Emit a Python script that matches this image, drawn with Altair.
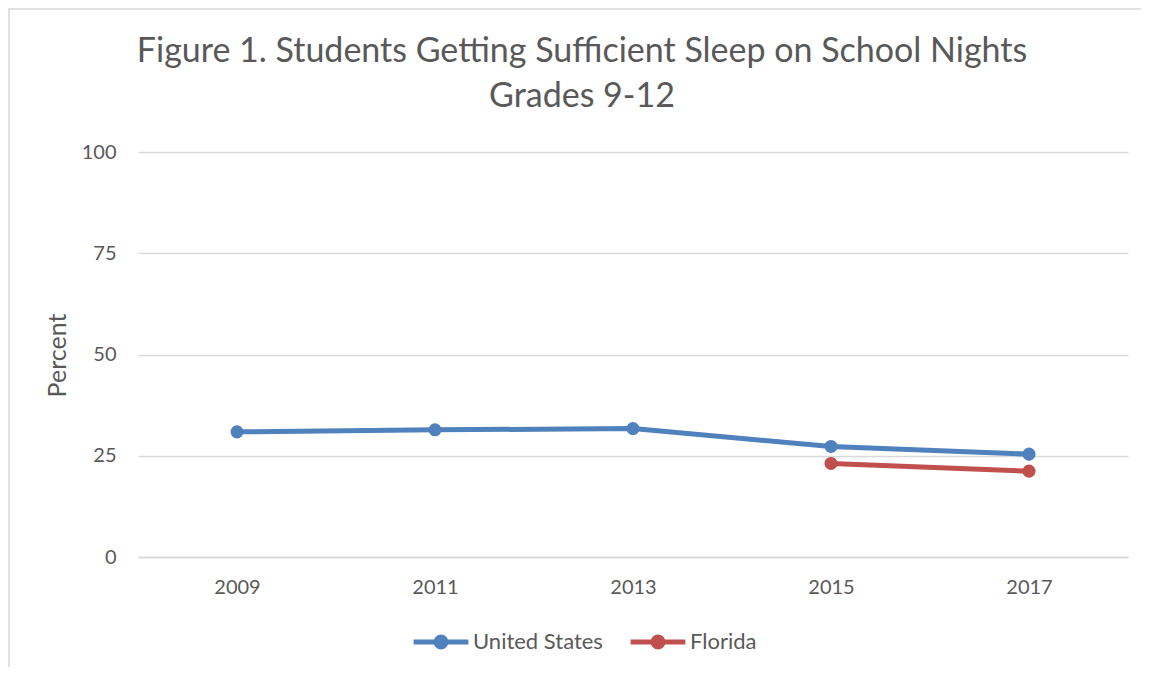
import altair as alt
import pandas as pd

years = ["2009", "2011", "2013", "2015", "2017"]
us_values = [30.9, 31.4, 31.7, 27.3, 25.4]
fl_years = ["2015", "2017"]
fl_values = [23.1, 21.2]
series_names = ["United States", "Florida"]
series_colors = ["#4f81bd", "#c0504d"]
y_ticks = [0, 25, 50, 75, 100]
title_lines = ["Figure 1. Students Getting Sufficient Sleep on School Nights", "Grades 9-12"]

rows = [{"year": y, "series": "United States", "value": v} for y, v in zip(years, us_values)]
rows += [{"year": y, "series": "Florida", "value": v} for y, v in zip(fl_years, fl_values)]
df = pd.DataFrame(rows)

FONT = "Lato"
GREY = "#595959"

legend_path = "M-1,0H1M0.18,0A0.18,0.18 0 1,1 -0.18,0A0.18,0.18 0 1,1 0.18,0Z"

color = alt.Color(
    "series:N",
    scale=alt.Scale(domain=series_names, range=series_colors),
    legend=alt.Legend(
        title=None,
        orient="none",
        direction="horizontal",
        legendX=273,
        legendY=460,
        symbolType=legend_path,
        symbolSize=3000,
        symbolStrokeWidth=5,
        labelFont=FONT,
        labelFontSize=22,
        labelColor=GREY,
        labelOffset=2,
        columnPadding=17,
        padding=0,
    ),
)

base = alt.Chart(df).encode(
    x=alt.X(
        "year:O",
        sort=years,
        scale=alt.Scale(domain=years, paddingInner=0, paddingOuter=0.5),
        axis=alt.Axis(
            title=None,
            labelAngle=0,
            ticks=False,
            domainColor="#d9d9d9",
            domainWidth=1.5,
            labelFont=FONT,
            labelFontSize=20,
            labelColor=GREY,
            labelPadding=20,
        ),
    ),
    y=alt.Y(
        "value:Q",
        scale=alt.Scale(domain=[0, 100]),
        axis=alt.Axis(
            title="Percent",
            values=y_ticks,
            domain=False,
            ticks=False,
            gridColor="#d9d9d9",
            gridWidth=1.5,
            labelFont=FONT,
            labelFontSize=20,
            labelColor=GREY,
            labelPadding=22,
            titleFont=FONT,
            titleFontSize=25,
            titleFontWeight="normal",
            titleColor=GREY,
            titleX=-81,
            titleY=203,
            titleAlign="center",
            titleBaseline="middle",
        ),
    ),
    color=color,
)

lines = base.mark_line(strokeWidth=5)
points = base.mark_point(filled=True, size=170, opacity=1)

title1 = alt.Chart(pd.DataFrame({"t": [title_lines[0]]})).mark_text(
    font=FONT, fontSize=34, color=GREY, align="center", baseline="middle"
).encode(text="t:N", x=alt.value(444), y=alt.value(-100))
title2 = alt.Chart(pd.DataFrame({"t": [title_lines[1]]})).mark_text(
    font=FONT, fontSize=34, color=GREY, align="center", baseline="middle"
).encode(text="t:N", x=alt.value(444), y=alt.value(-55))

border_top = alt.Chart(pd.DataFrame({"a": [0]})).mark_rule(color="#d9d9d9", strokeWidth=1.5).encode(
    x=alt.value(-130), x2=alt.value(1003), y=alt.value(-143)
)
border_left = alt.Chart(pd.DataFrame({"a": [0]})).mark_rule(color="#d9d9d9", strokeWidth=1.5).encode(
    x=alt.value(-129), y=alt.value(-143), y2=alt.value(530)
)

chart = (
    alt.layer(border_top, border_left, title1, title2, lines, points)
    .properties(
        width=990,
        height=405,
        autosize=alt.AutoSizeParams(type="none"),
        padding={"left": 130, "top": 144, "right": 13, "bottom": 110},
    )
    .configure_view(stroke=None)
)

chart.save("out.html", embed_options={"renderer": "svg", "actions": False})
